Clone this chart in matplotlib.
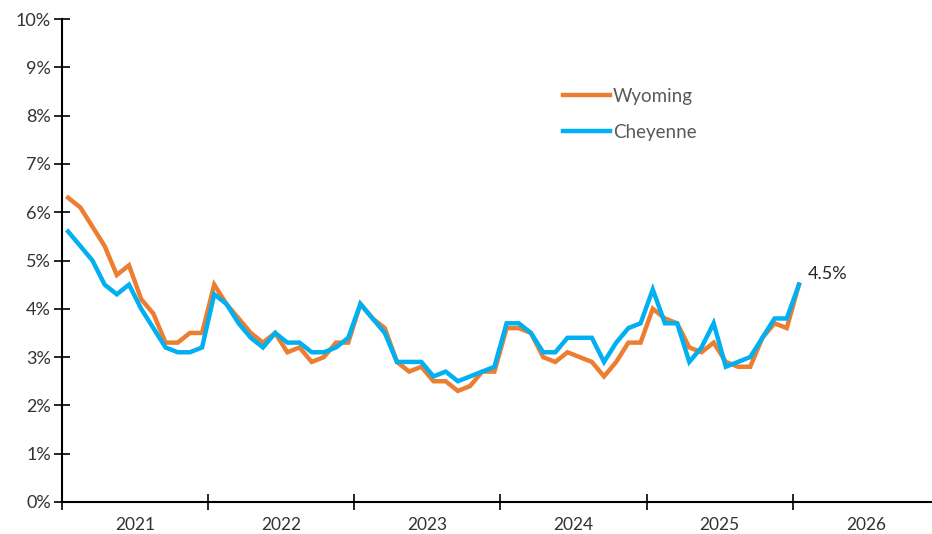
import matplotlib.pyplot as plt
import numpy as np

# monthly unemployment rate, Jan 2021 .. Jan 2026
wyoming = [6.3, 6.1, 5.7, 5.3, 4.7, 4.9, 4.2, 3.9, 3.3, 3.3, 3.5, 3.5,
           4.5, 4.1, 3.8, 3.5, 3.3, 3.5, 3.1, 3.2, 2.9, 3.0, 3.3, 3.3,
           4.1, 3.8, 3.6, 2.9, 2.7, 2.8, 2.5, 2.5, 2.3, 2.4, 2.7, 2.7,
           3.6, 3.6, 3.5, 3.0, 2.9, 3.1, 3.0, 2.9, 2.6, 2.9, 3.3, 3.3,
           4.0, 3.8, 3.7, 3.2, 3.1, 3.3, 2.9, 2.8, 2.8, 3.4, 3.7, 3.6,
           4.5]
cheyenne = [5.6, 5.3, 5.0, 4.5, 4.3, 4.5, 4.0, 3.6, 3.2, 3.1, 3.1, 3.2,
            4.3, 4.1, 3.7, 3.4, 3.2, 3.5, 3.3, 3.3, 3.1, 3.1, 3.2, 3.4,
            4.1, 3.8, 3.5, 2.9, 2.9, 2.9, 2.6, 2.7, 2.5, 2.6, 2.7, 2.8,
            3.7, 3.7, 3.5, 3.1, 3.1, 3.4, 3.4, 3.4, 2.9, 3.3, 3.6, 3.7,
            4.4, 3.7, 3.7, 2.9, 3.2, 3.7, 2.8, 2.9, 3.0, 3.4, 3.8, 3.8,
            4.5]
years = ["2021", "2022", "2023", "2024", "2025", "2026"]

plt.rcParams['font.family'] = ['Lato', 'DejaVu Sans']

x = np.arange(len(wyoming)) + 0.5  # months since Jan 2021, centred

fig = plt.figure(figsize=(9.32, 5.34), dpi=100)
ax = fig.add_axes([62/932, 32/534, 877/932, 483/534])

ax.plot(x, wyoming, color='#ED7D31', lw=3.2, label='Wyoming', solid_joinstyle='miter')
ax.plot(x, cheyenne, color='#00B0F0', lw=3.2, label='Cheyenne', solid_joinstyle='miter')

ax.annotate(f"{wyoming[-1]:.1f}%", xy=(x[-1], wyoming[-1]), xytext=(9, 11),
            textcoords='offset pixels', va='center', ha='left',
            fontsize=13, color='#262626')

ax.set_xlim(0, 72)
ax.set_ylim(0, 10)
ax.set_yticks(np.arange(0, 11, 1))
ax.set_yticklabels([f"{v}%" for v in range(11)])
ax.set_xticks(np.arange(0, 72, 12))
ax.set_xticklabels([])
ax.set_xticks(np.arange(6, 72, 12), minor=True)
ax.set_xticklabels(years, minor=True)

ax.tick_params(axis='both', which='major', direction='inout', length=12, width=1.2,
               labelsize=13, colors='black', labelcolor='#333333')
ax.tick_params(axis='y', pad=2)
ax.tick_params(axis='x', which='minor', length=0, pad=11, labelsize=12.5, labelcolor='#333333')

for s in ['top', 'right']:
    ax.spines[s].set_visible(False)
for s in ['left', 'bottom']:
    ax.spines[s].set_linewidth(1.5)

ax.legend(loc='upper left', bbox_to_anchor=(563/932, 1 - 88/534),
          bbox_transform=fig.transFigure, frameon=False, fontsize=13.5,
          handlelength=2.5, handletextpad=0.15, labelspacing=1.0,
          borderpad=0, borderaxespad=0, labelcolor='#595959')

fig.savefig("out.png", dpi=100)
